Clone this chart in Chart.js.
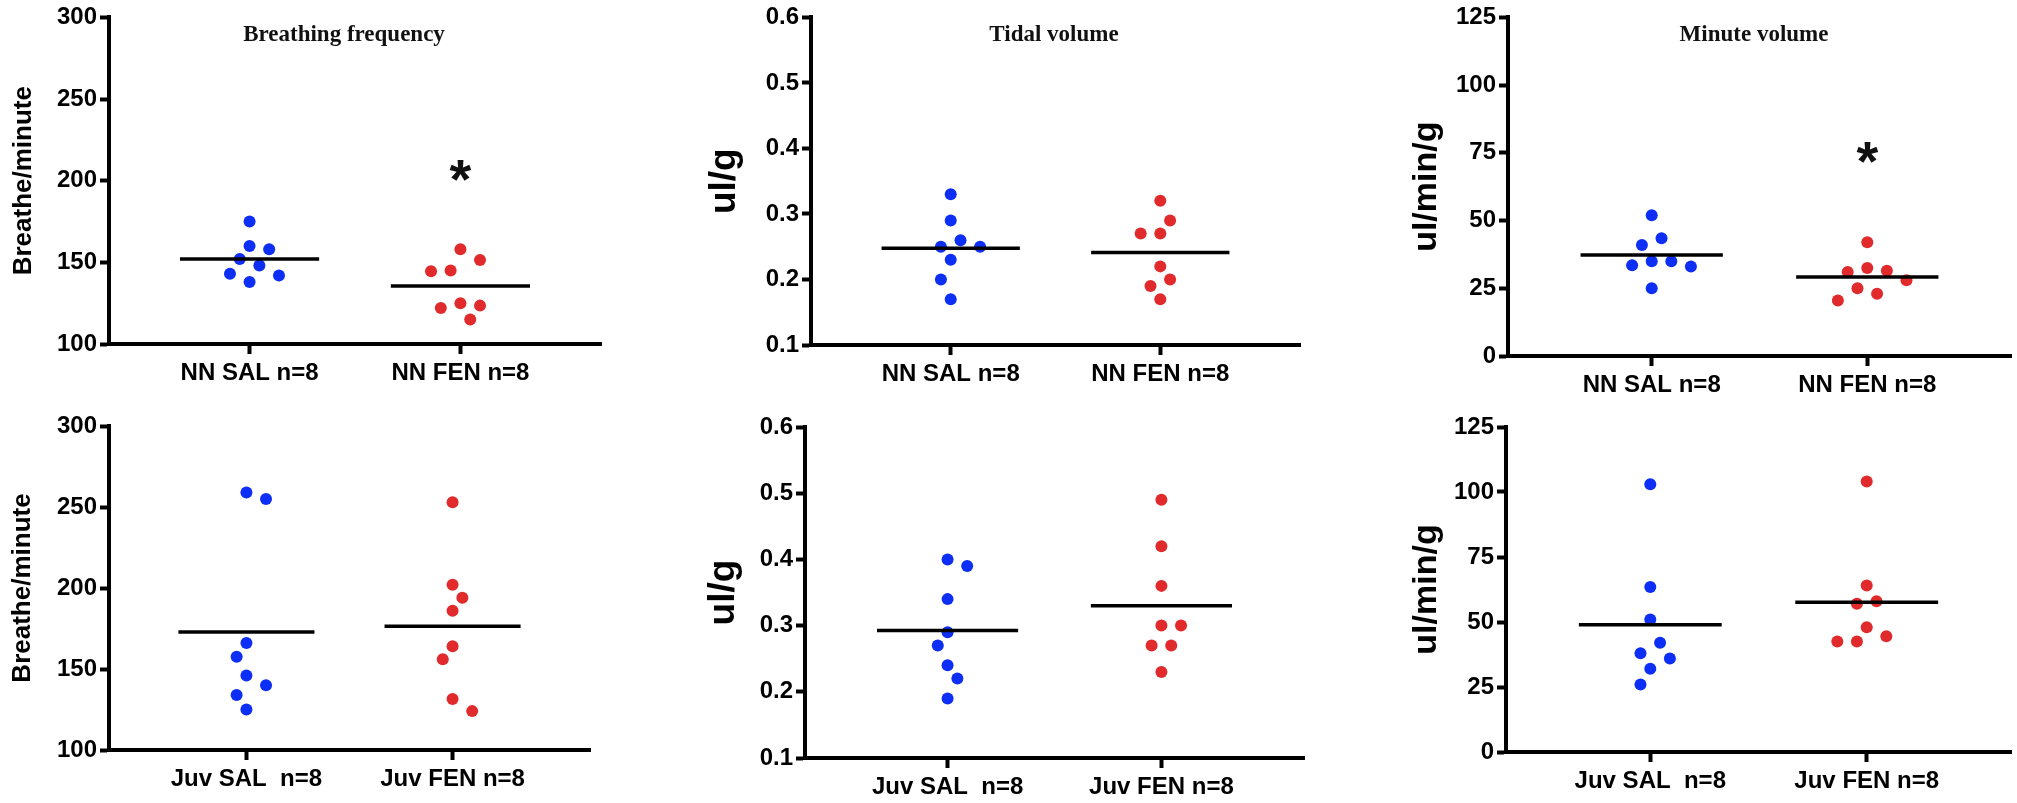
<!DOCTYPE html>
<html>
<head>
<meta charset="utf-8">
<script src="https://cdn.jsdelivr.net/npm/chart.js@4.4.0/dist/chart.umd.min.js"></script>
<style>
  body { margin: 0; background: #fff; }
  #board { position: relative; width: 2017px; height: 803px; overflow: hidden; }
  .cell { position: absolute; }
</style>
</head>
<body>
<div id="board"></div>
<script>
// group names on the x axes
const nnGroups = ['NN SAL n=8', 'NN FEN n=8'];
const juvGroups = ['Juv SAL  n=8', 'Juv FEN n=8'];

// breathing frequency (breaths/min)
const nnSalFreq = [175, 158, 160, 152, 148, 143, 142, 138];
const nnFenFreq = [158, 151.5, 145, 144.5, 123.5, 122, 125, 115];
const juvSalFreq = [259, 255, 166, 157.5, 146, 140, 134, 125];
const juvFenFreq = [253, 202, 194, 186, 164, 156, 131.5, 124];

// tidal volume (ul/g)
const nnSalTidal = [0.33, 0.29, 0.26, 0.25, 0.25, 0.23, 0.20, 0.17];
const nnFenTidal = [0.32, 0.29, 0.27, 0.27, 0.22, 0.20, 0.19, 0.17];
const juvSalTidal = [0.40, 0.39, 0.34, 0.29, 0.27, 0.24, 0.22, 0.19];
const juvFenTidal = [0.49, 0.42, 0.36, 0.30, 0.30, 0.27, 0.27, 0.23];

// minute volume (ul/min/g)
const nnSalMinute = [52, 43.5, 41, 35, 35, 33.5, 33, 25];
const nnFenMinute = [42, 32.5, 31, 31.5, 28, 25, 23, 20.5];
const juvSalMinute = [103, 63.5, 51, 42, 38, 36, 32, 26];
const juvFenMinute = [104, 64, 58, 57, 48, 44.5, 42.5, 42.5];

// y-axis ticks per measure: [min, max, step, decimals]
const freqTicks = [100, 300, 50, 0];
const tidalTicks = [0.1, 0.6, 0.1, 1];
const minuteTicks = [0, 125, 25, 0];

// height of the significance asterisk above the FEN column
const nnFreqStar = 206;
const nnMinuteStar = 75;

const BLUE = '#0d2ef4';
const RED = '#e02a2c';
const DOT_R = 6;
const SLOT_PX = 9.8;     // horizontal step between spread dots
const MEAN_HALF = 0.33;  // half width of mean bar, in group units

Chart.defaults.font.family = '"Liberation Sans", Arial, sans-serif';
Chart.defaults.color = '#000';

const cols = [[0, 640], [640, 720], [1360, 657]];
const rows = [[0, 400], [400, 403]];

const panels = [
  { col: 0, row: 0, area: [109, 601, 17, 344], title: 'Breathing frequency', titleX: 344,
    yTitle: 'Breathe/minute', ySize: 26, yTitleX: 24, groups: nnGroups,
    sal: nnSalFreq, fen: nnFenFreq, ticks: freqTicks, star: nnFreqStar },
  { col: 1, row: 0, area: [811, 1300, 17, 345], title: 'Tidal volume', titleX: 1054,
    yTitle: 'ul/g', ySize: 37, yTitleX: 725, groups: nnGroups,
    sal: nnSalTidal, fen: nnFenTidal, ticks: tidalTicks, star: null },
  { col: 2, row: 0, area: [1508, 2012, 17, 356], title: 'Minute volume', titleX: 1754,
    yTitle: 'ul/min/g', ySize: 34, yTitleX: 1427, groups: nnGroups,
    sal: nnSalMinute, fen: nnFenMinute, ticks: minuteTicks, star: nnMinuteStar },
  { col: 0, row: 1, area: [109, 590, 426, 750], title: null,
    yTitle: 'Breathe/minute', ySize: 26, yTitleX: 23, groups: juvGroups,
    sal: juvSalFreq, fen: juvFenFreq, ticks: freqTicks, star: null },
  { col: 1, row: 1, area: [805, 1304, 427, 758], title: null,
    yTitle: 'ul/g', ySize: 37, yTitleX: 724, groups: juvGroups,
    sal: juvSalTidal, fen: juvFenTidal, ticks: tidalTicks, star: null },
  { col: 2, row: 1, area: [1506, 2012, 427, 752], title: null,
    yTitle: 'ul/min/g', ySize: 34, yTitleX: 1427, groups: juvGroups,
    sal: juvSalMinute, fen: juvFenMinute, ticks: minuteTicks, star: null }
];

const mean = vals => vals.reduce((a, b) => a + b, 0) / vals.length;

// panel heading and the significance star
const notes = {
  id: 'notes',
  afterDatasetsDraw(chart, args, opts) {
    const { ctx, chartArea, scales } = chart;
    ctx.save();
    ctx.fillStyle = '#111';
    ctx.textAlign = 'center';
    ctx.textBaseline = 'alphabetic';
    if (opts.title) {
      ctx.font = 'bold 23px "Liberation Serif", "Times New Roman", serif';
      ctx.fillText(opts.title, opts.titleX, chartArea.top + 24);
    }
    if (opts.star != null) {
      ctx.font = 'bold 56px "Liberation Sans", Arial, sans-serif';
      const m = ctx.measureText('*');
      const px = scales.x.getPixelForValue(2);
      const py = scales.y.getPixelForValue(opts.star);
      ctx.fillText('*', px, py + (m.actualBoundingBoxAscent - m.actualBoundingBoxDescent) / 2);
    }
    ctx.restore();
  }
};

// beeswarm: higher values first, each dot takes the nearest free slot
function swarmSlots(ys) {
  const order = ys.map((v, i) => i).sort((a, b) => ys[a] - ys[b]);
  const placed = [];
  const slots = ys.map(() => 0);
  const dx0 = DOT_R * 2 - 0.5, dy0 = DOT_R * 4;
  let lean = 1;
  order.forEach(i => {
    const py = ys[i];
    for (let k = 0; k < 30; k++) {
      const cands = k === 0 ? [0] : [k * lean, -k * lean];
      const s = cands.find(c => placed.every(p => {
        const dx = (p.s - c) * SLOT_PX / dx0, dy = (p.y - py) / dy0;
        return dx * dx + dy * dy >= 1;
      }));
      if (s !== undefined) {
        slots[i] = s;
        placed.push({ s, y: py });
        if (s !== 0) lean = -Math.sign(s);
        break;
      }
    }
  });
  return slots;
}

const board = document.getElementById('board');

panels.forEach(p => {
  const [cl, cw] = cols[p.col];
  const [ct, ch] = rows[p.row];
  const [al, ar, at, ab] = p.area;
  const [yMin, yMax, yStep, dec] = p.ticks;
  const xAxisH = 40;

  const cell = document.createElement('div');
  cell.className = 'cell';
  cell.style.left = cl + 'px';
  cell.style.top = ct + 'px';
  cell.style.width = cw + 'px';
  cell.style.height = ch + 'px';
  const canvas = document.createElement('canvas');
  canvas.width = cw;
  canvas.height = ch;
  cell.appendChild(canvas);
  board.appendChild(cell);

  const salMean = mean(p.sal), fenMean = mean(p.fen);

  const chart = new Chart(canvas, {
    type: 'scatter',
    data: {
      datasets: [
        { type: 'line', data: [{ x: 1 - MEAN_HALF, y: salMean }, { x: 1 + MEAN_HALF, y: salMean }],
          borderColor: '#000', borderWidth: 3.5, pointRadius: 0, borderCapStyle: 'butt' },
        { type: 'line', data: [{ x: 2 - MEAN_HALF, y: fenMean }, { x: 2 + MEAN_HALF, y: fenMean }],
          borderColor: '#000', borderWidth: 3.5, pointRadius: 0, borderCapStyle: 'butt' },
        { data: p.sal.map(v => ({ x: 1, y: v })), backgroundColor: BLUE,
          pointRadius: DOT_R, borderWidth: 0, pointHoverRadius: DOT_R },
        { data: p.fen.map(v => ({ x: 2, y: v })), backgroundColor: RED,
          pointRadius: DOT_R, borderWidth: 0, pointHoverRadius: DOT_R }
      ]
    },
    options: {
      responsive: false,
      devicePixelRatio: 1,
      animation: false,
      events: [],
      layout: {
        padding: { left: 0, top: at - ct, right: cl + cw - ar, bottom: ct + ch - ab - xAxisH }
      },
      plugins: {
        legend: { display: false },
        tooltip: { enabled: false },
        notes: { title: p.title, titleX: p.titleX - cl, star: p.star }
      },
      scales: {
        x: {
          type: 'linear',
          min: 1 / 3,
          max: 8 / 3,
          afterBuildTicks: s => { s.ticks = [{ value: 1 }, { value: 2 }]; },
          afterFit: s => { s.height = xAxisH; },
          ticks: {
            callback: (v, i) => p.groups[i],
            font: { size: 24, weight: 'bold' },
            color: '#000',
            padding: 5,
            maxRotation: 0,
            autoSkip: false
          },
          grid: { drawOnChartArea: false, tickLength: 10, tickWidth: 4, tickColor: '#000', color: '#000' },
          border: { display: true, width: 4, color: '#000' }
        },
        y: {
          min: yMin,
          max: yMax,
          afterFit: s => { s.width = al - cl; },
          ticks: {
            stepSize: yStep,
            callback: v => v.toFixed(dec),
            font: { size: 24, weight: 'bold' },
            color: '#000',
            padding: 3
          },
          grid: { drawOnChartArea: false, tickLength: 9, tickWidth: 4, tickColor: '#000', color: '#000' },
          border: { display: true, width: 4, color: '#000' },
          title: {
            display: true,
            text: p.yTitle,
            color: '#000',
            font: { size: p.ySize, weight: 'bold' },
            padding: { top: p.yTitleX - cl - p.ySize * 0.6, bottom: 0 }
          }
        }
      }
    },
    plugins: [notes]
  });

  // spread overlapping dots sideways, then redraw
  const xs = chart.scales.x, ys = chart.scales.y;
  const unit = xs.getPixelForValue(2) - xs.getPixelForValue(1);
  [[2, p.sal, 1], [3, p.fen, 2]].forEach(([di, vals, c]) => {
    const slots = swarmSlots(vals.map(v => ys.getPixelForValue(v)));
    chart.data.datasets[di].data = vals.map((v, i) => ({ x: c + slots[i] * SLOT_PX / unit, y: v }));
  });
  chart.update('none');
});
</script>
</body>
</html>
